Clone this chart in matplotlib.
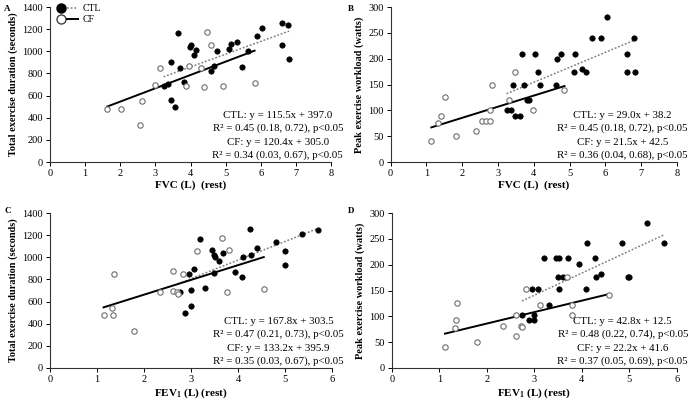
import matplotlib
matplotlib.use("Agg")
import matplotlib.pyplot as plt
import numpy as np
from matplotlib.lines import Line2D
from matplotlib.legend_handler import HandlerTuple

plt.rcParams['font.family'] = ['Liberation Serif', 'DejaVu Serif']
plt.rcParams['mathtext.fontset'] = 'custom'
plt.rcParams['mathtext.rm'] = 'Liberation Serif'
plt.rcParams['mathtext.bf'] = 'Liberation Serif:bold'

# ---------------- Panel A: FVC vs total exercise duration ----------------
a_ctl_x = [3.23, 3.36, 3.44, 3.44, 3.57, 3.65, 3.71, 3.82, 3.99, 4.02, 4.09, 4.15,
           4.58, 4.66, 4.75, 5.10, 5.14, 5.33, 5.45, 5.62, 5.88, 6.04, 6.60, 6.60,
           6.78, 6.80]
a_ctl_y = [691, 706, 899, 556, 499, 1163, 850, 721, 1040, 1054, 967, 1012,
           823, 868, 1003, 1025, 1064, 1088, 856, 1007, 1139, 1208, 1259, 1061,
           1241, 928]
a_cf_x = [1.63, 2.02, 2.56, 2.62, 2.99, 3.13, 3.86, 3.94, 4.29, 4.39, 4.46, 4.57,
          4.93, 5.82]
a_cf_y = [481, 481, 336, 550, 700, 850, 688, 871, 845, 673, 1178, 1061, 688, 715]

# ---------------- Panel B: FVC vs peak workload ----------------
b_ctl_x = [3.24, 3.37, 3.43, 3.49, 3.61, 3.66, 3.72, 3.81, 3.87, 4.04, 4.11, 4.17,
           4.61, 4.66, 4.76, 5.12, 5.15, 5.34, 5.46, 5.63, 5.89, 6.05, 6.61, 6.61,
           6.80, 6.82]
b_ctl_y = [100, 100, 150, 90, 90, 210, 150, 120, 120, 210, 175, 150,
           150, 200, 210, 175, 210, 180, 175, 240, 240, 280, 210, 175,
           240, 175]
b_cf_x = [1.14, 1.33, 1.42, 1.53, 1.83, 2.39, 2.55, 2.66, 2.77, 2.79, 2.84, 3.31,
          3.49, 3.98, 4.86]
b_cf_y = [40, 75, 90, 125, 50, 60, 80, 80, 80, 100, 150, 120, 175, 100, 140]

# ---------------- Panel C: FEV1 vs total exercise duration ----------------
c_ctl_x = [2.73, 2.76, 2.88, 2.96, 3.00, 3.00, 3.06, 3.19, 3.30, 3.44, 3.49, 3.50,
           3.52, 3.60, 3.69, 3.93, 4.08, 4.10, 4.26, 4.28, 4.40, 4.81, 5.00, 5.00,
           5.37, 5.70]
c_ctl_y = [680, 690, 494, 852, 708, 557, 897, 1162, 723, 1063, 858, 1018,
           1000, 969, 1042, 867, 822, 1006, 1259, 1024, 1087, 1138, 1060, 927,
           1210, 1244]
c_cf_x = [1.14, 1.32, 1.35, 1.37, 1.78, 2.34, 2.61, 2.62, 2.71, 2.73, 2.82, 3.13,
          3.67, 3.77, 3.80, 4.55]
c_cf_y = [476, 545, 479, 846, 337, 690, 699, 873, 686, 667, 846, 1056,
          1177, 686, 1066, 713]

# ---------------- Panel D: FEV1 vs peak workload ----------------
d_ctl_x = [2.74, 2.89, 2.96, 2.99, 3.00, 3.07, 3.21, 3.31, 3.45, 3.49, 3.51, 3.52,
           3.61, 3.71, 3.93, 4.09, 4.11, 4.28, 4.30, 4.41, 4.84, 4.97, 5.00, 5.38,
           5.72]
d_ctl_y = [103, 92, 152, 102, 92, 152, 212, 121, 212, 177, 152, 212,
           177, 212, 201, 152, 242, 212, 177, 181, 242, 177, 177, 281,
           242]
d_cf_x = [1.12, 1.33, 1.35, 1.37, 1.79, 2.35, 2.61, 2.61, 2.72, 2.74, 2.83, 3.13,
          3.68, 3.79, 3.79, 4.57]
d_cf_y = [41, 77, 92, 126, 51, 81, 61, 103, 81, 79, 152, 121, 177, 121, 102, 141]

# regression coefficients (slope, intercept) as printed
fits = {
    'A': {'ctl': (115.5, 397.0), 'cf': (120.4, 305.0)},
    'B': {'ctl': (29.0, 38.2), 'cf': (21.5, 42.5)},
    'C': {'ctl': (167.8, 303.5), 'cf': (133.2, 395.9)},
    'D': {'ctl': (42.8, 12.5), 'cf': (22.2, 41.6)},
}
eq_text = {
    'A': ["CTL: y = 115.5x + 397.0", "R² = 0.45 (0.18, 0.72), p<0.05",
          "CF: y = 120.4x + 305.0", "R² = 0.34 (0.03, 0.67), p<0.05"],
    'B': ["CTL: y = 29.0x + 38.2", "R² = 0.45 (0.18, 0.72), p<0.05",
          "CF: y = 21.5x + 42.5", "R² = 0.36 (0.04, 0.68), p<0.05"],
    'C': ["CTL: y = 167.8x + 303.5", "R² = 0.47 (0.21, 0.73), p<0.05",
          "CF: y = 133.2x + 395.9", "R² = 0.35 (0.03, 0.67), p<0.05"],
    'D': ["CTL: y = 42.8x + 12.5", "R² = 0.48 (0.22, 0.74), p<0.05",
          "CF: y = 22.2x + 41.6", "R² = 0.37 (0.05, 0.69), p<0.05"],
}

panels = [
    ('A', a_ctl_x, a_ctl_y, a_cf_x, a_cf_y, 8, 1400, 200, 'Total exercise duration (seconds)',
     'FVC (L)  (rest)', [0.0725, 0.596, 0.4075, 0.3865]),
    ('B', b_ctl_x, b_ctl_y, b_cf_x, b_cf_y, 8, 300, 50, 'Peak exercise workload (watts)',
     'FVC (L)  (rest)', [0.566, 0.596, 0.415, 0.3865]),
    ('C', c_ctl_x, c_ctl_y, c_cf_x, c_cf_y, 6, 1400, 200, 'Total exercise duration (seconds)',
     r'FEV$_{\mathbf{1}}$ (L) (rest)', [0.0725, 0.0823, 0.4085, 0.3865]),
    ('D', d_ctl_x, d_ctl_y, d_cf_x, d_cf_y, 6, 300, 50, 'Peak exercise workload (watts)',
     r'FEV$_{\mathbf{1}}$ (L) (rest)', [0.5677, 0.0823, 0.4133, 0.3865]),
]
letter_pos = {'A': (0.006, 0.978), 'B': (0.504, 0.978), 'C': (0.006, 0.474), 'D': (0.504, 0.474)}

fig = plt.figure(figsize=(6.9, 4.01), dpi=100)

for (lab, cx, cy, fx, fy, xmax, ymax, ystep, ylab, xlab, rect) in panels:
    ax = fig.add_axes(rect)
    ax.scatter(cx, cy, s=15, c='black', edgecolors='black', linewidths=0.5, zorder=3)
    ax.scatter(fx, fy, s=15, c='white', edgecolors='#6e6e6e', linewidths=0.8, zorder=3)
    m, b = fits[lab]['ctl']
    xs = np.array([min(cx), max(cx)])
    ax.plot(xs, m * xs + b, color='#808080', linestyle=(0, (1.2, 1.2)), linewidth=1.1, zorder=2)
    m, b = fits[lab]['cf']
    xs = np.array([min(fx), max(fx)])
    ax.plot(xs, m * xs + b, color='black', linestyle='-', linewidth=1.4, zorder=2)

    ax.set_xlim(0, xmax)
    ax.set_ylim(0, ymax)
    ax.set_xticks(np.arange(0, xmax + 1, 1))
    ax.set_yticks(np.arange(0, ymax + 1, ystep))
    for s in ['top', 'right']:
        ax.spines[s].set_visible(False)
    for s in ['left', 'bottom']:
        ax.spines[s].set_linewidth(0.8)
        ax.spines[s].set_color('#333333')
    ax.tick_params(axis='both', labelsize=7.5, length=3, width=0.7, direction='out', pad=2)
    ax.set_ylabel(ylab, fontsize=7.4, fontweight='bold', labelpad=3)
    ax.set_xlabel(xlab, fontsize=8, fontweight='bold', labelpad=2)

    ys = [0.30, 0.215, 0.125, 0.045]
    for t, yy in zip(eq_text[lab], ys):
        ax.text(0.81, yy, t, transform=ax.transAxes, ha='center', va='center',
                fontsize=7.8, clip_on=False)

    lx, ly = letter_pos[lab]
    fig.text(lx, ly, lab, fontsize=6.5, fontweight='bold', va='center', ha='left')

    if lab == 'A':
        h_ctl = (Line2D([], [], marker='o', color='black', markersize=6.5, linestyle='None'),
                 Line2D([], [], color='#808080', linestyle=(0, (1.2, 1.2)), linewidth=1.1))
        h_cf = (Line2D([], [], marker='o', markerfacecolor='white', markeredgecolor='#444444',
                       markersize=6.5, linestyle='None'),
                Line2D([], [], color='black', linewidth=1.4))
        ax.legend([h_ctl, h_cf], ['CTL', 'CF'],
                  handler_map={tuple: HandlerTuple(ndivide=None, pad=0.0)},
                  loc='upper left', bbox_to_anchor=(0.005, 1.045), frameon=False,
                  fontsize=7, handlelength=2.3, labelspacing=0.25, handletextpad=0.5,
                  borderaxespad=0)

fig.savefig('out.png', dpi=100)
